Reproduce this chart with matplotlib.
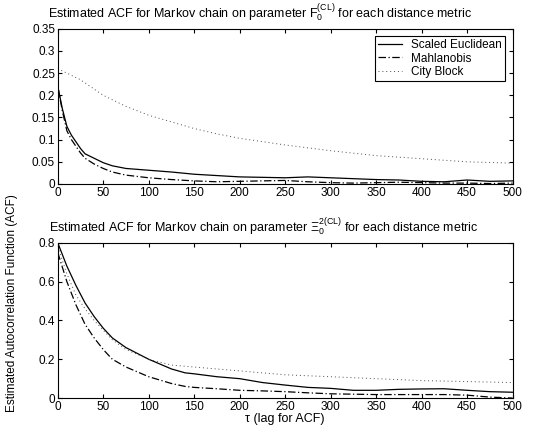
import numpy as np
import matplotlib
matplotlib.use("Agg")
import matplotlib.pyplot as plt

plt.rcParams['font.family'] = ['Liberation Sans', 'DejaVu Sans']
plt.rcParams['mathtext.fontset'] = 'custom'
plt.rcParams['mathtext.rm'] = 'Liberation Sans'
plt.rcParams['mathtext.it'] = 'Liberation Sans'
plt.rcParams['font.size'] = 8

# top panel: parameter F0(CL)
lag_top = [0, 5, 10, 15, 20, 25, 30, 40, 50, 60, 75, 100, 125, 150, 175, 200, 225, 250,
           275, 300, 325, 350, 375, 400, 425, 450, 475, 500]
euc_top = [0.22, 0.17, 0.13, 0.11, 0.095, 0.08, 0.068, 0.058, 0.048, 0.041, 0.035, 0.031,
           0.027, 0.022, 0.019, 0.016, 0.015, 0.014, 0.016, 0.014, 0.012, 0.010, 0.009,
           0.006, 0.005, 0.009, 0.006, 0.007]
mah_top = [0.22, 0.165, 0.12, 0.1, 0.085, 0.07, 0.058, 0.045, 0.035, 0.027, 0.02, 0.014,
           0.01, 0.007, 0.005, 0.006, 0.007, 0.008, 0.005, 0.003, 0.002, 0.003, 0.004,
           0.003, 0.002, 0.002, 0.001, 0.002]
lag_cb_top = [0, 25, 50, 75, 100, 125, 150, 175, 200, 250, 300, 350, 400, 450, 500]
cb_top = [0.26, 0.235, 0.2, 0.175, 0.155, 0.14, 0.125, 0.113, 0.103, 0.088, 0.075, 0.064,
          0.057, 0.05, 0.047]

# bottom panel: parameter Xi0^2(CL)
lag_bot = [0, 10, 20, 30, 40, 50, 60, 75, 100, 125, 140, 150, 175, 200, 225, 250, 275,
           300, 325, 350, 375, 400, 425, 450, 475, 500]
euc_bot = [0.8, 0.68, 0.58, 0.49, 0.42, 0.36, 0.31, 0.26, 0.2, 0.15, 0.13, 0.125, 0.11,
           0.1, 0.08, 0.067, 0.055, 0.05, 0.04, 0.04, 0.045, 0.047, 0.048, 0.04, 0.033, 0.03]
mah_bot = [0.75, 0.6, 0.48, 0.38, 0.31, 0.25, 0.2, 0.16, 0.11, 0.075, 0.06, 0.055, 0.048,
           0.04, 0.037, 0.033, 0.027, 0.022, 0.02, 0.018, 0.018, 0.018, 0.018, 0.015,
           0.005, 0.0]
lag_cb_bot = [0, 10, 20, 30, 40, 50, 60, 75, 100, 125, 150, 200, 250, 300, 350, 400, 450, 500]
cb_bot = [0.78, 0.64, 0.53, 0.46, 0.4, 0.35, 0.3, 0.25, 0.2, 0.17, 0.16, 0.14, 0.12, 0.11,
          0.1, 0.09, 0.085, 0.08]

labels = ['Scaled Euclidean', 'Mahlanobis', 'City Block']

fig = plt.figure(figsize=(5.35, 4.36), dpi=100)
ax1 = fig.add_axes([0.108, 0.578, 0.850, 0.356])
ax2 = fig.add_axes([0.108, 0.087, 0.850, 0.356])

def draw(ax, lag, euc, mah, lag_cb, cb):
    ax.plot(lag, euc, color='k', lw=0.9, ls='-', label=labels[0])
    ax.plot(lag, mah, color='k', lw=0.9, ls=(0, (6, 2, 1, 2)), label=labels[1])
    ax.plot(lag_cb, cb, color='0.3', lw=0.7, ls=(0, (1, 3)), label=labels[2])
    ax.set_xlim(0, 500)
    ax.set_xticks(np.arange(0, 501, 50))
    ax.tick_params(direction='in', top=True, right=True, length=3, labelsize=8.5, pad=2)
    for s in ax.spines.values():
        s.set_linewidth(0.8)

draw(ax1, lag_top, euc_top, mah_top, lag_cb_top, cb_top)
ax1.set_ylim(0, 0.35)
ax1.set_yticks([0, 0.05, 0.1, 0.15, 0.2, 0.25, 0.3, 0.35])
ax1.set_yticklabels(['0', '0.05', '0.1', '0.15', '0.2', '0.25', '0.3', '0.35'])
ax1.set_title(r'Estimated ACF for Markov chain on parameter $\mathrm{F}_0^{(\mathrm{CL})}$ for each distance metric',
              fontsize=9, pad=8, x=0.445)
leg = ax1.legend(loc='upper right', fontsize=8.5, fancybox=False, framealpha=1,
                 edgecolor='k', handlelength=2, borderpad=0.3, labelspacing=0.1,
                 borderaxespad=0.6)
leg.get_frame().set_linewidth(0.8)

draw(ax2, lag_bot, euc_bot, mah_bot, lag_cb_bot, cb_bot)
ax2.set_ylim(0, 0.8)
ax2.set_yticks([0, 0.2, 0.4, 0.6, 0.8])
ax2.set_yticklabels(['0', '0.2', '0.4', '0.6', '0.8'])
ax2.set_title(r'Estimated ACF for Markov chain on parameter $\Xi_0^{2(\mathrm{CL})}$ for each distance metric',
              fontsize=9, pad=8, x=0.452)
ax2.set_xlabel('τ (lag for ACF)', fontsize=9, labelpad=0)

fig.text(0.022, 0.305, 'Estimated Autocorrelation Function (ACF)', rotation=90,
         va='center', ha='center', fontsize=8.5)

fig.savefig('out.png', dpi=100)
